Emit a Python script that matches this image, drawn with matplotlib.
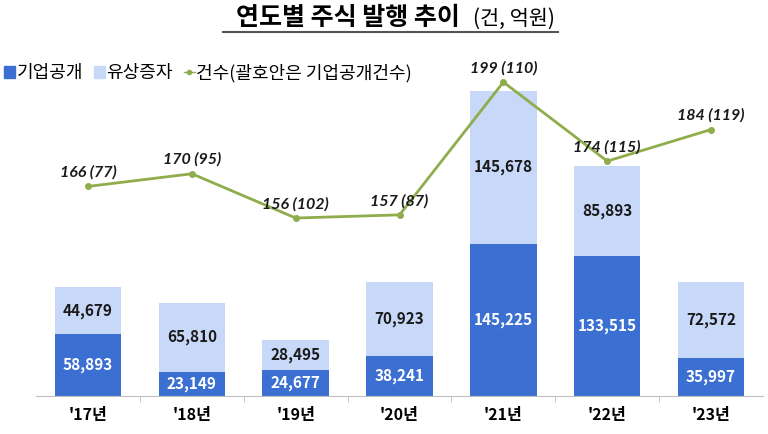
import matplotlib.pyplot as plt
from matplotlib.lines import Line2D
from matplotlib.patches import Patch

plt.rcParams['font.family'] = ['Noto Sans CJK KR', 'DejaVu Sans']

years = ["'17년", "'18년", "'19년", "'20년", "'21년", "'22년", "'23년"]
ipo_amount = [58893, 23149, 24677, 38241, 145225, 133515, 35997]
rights_amount = [44679, 65810, 28495, 70923, 145678, 85893, 72572]
total_count = [166, 170, 156, 157, 199, 174, 184]
ipo_count = [77, 95, 102, 87, 110, 115, 119]

dark_blue = '#3b6fd2'
light_blue = '#c8d8f8'
green = '#8fad4c'

fig = plt.figure(figsize=(7.68, 4.34), dpi=100)
ax = fig.add_axes([0.047, 0.0876, 0.9465, 0.7742])

x = list(range(len(years)))
ax.bar(x, ipo_amount, width=0.64, color=dark_blue)
ax.bar(x, rights_amount, width=0.64, bottom=ipo_amount, color=light_blue)

for i in x:
    ax.text(i, ipo_amount[i] / 2, f'{ipo_amount[i]:,}', ha='center', va='center',
            color='white', fontsize=11, fontweight='bold')
    ax.text(i, ipo_amount[i] + rights_amount[i] / 2, f'{rights_amount[i]:,}',
            ha='center', va='center', color='#1a1a1a', fontsize=11, fontweight='bold')

ax.set_xlim(-0.5, len(years) - 0.5)
ax.set_ylim(0, 320500)
ax.set_yticks([])
for s in ['top', 'right', 'left']:
    ax.spines[s].set_visible(False)
ax.spines['bottom'].set_color('#bfbfbf')
ax.set_xticks(x)
ax.set_xticklabels(years, fontsize=11.5, fontweight='bold')
ax.tick_params(axis='x', length=0, pad=8)
ax.set_xticks([i + 0.5 for i in x[:-1]], minor=True)
ax.tick_params(axis='x', which='minor', length=4, color='#bfbfbf')

ax2 = ax.twinx()
ax2.plot(x, total_count, color=green, linewidth=2, marker='o', markersize=4)
ax2.set_ylim(99.7, 206)
ax2.axis('off')
for i in x:
    ax2.annotate(f'{total_count[i]} ({ipo_count[i]})', (i, total_count[i]),
                 xytext=(0, 10), textcoords='offset points', ha='center', va='center',
                 fontsize=11.5, fontweight='bold', style='italic', color='#1a1a1a',
                 family=['Lato', 'DejaVu Sans'])

# title with underline
fig.text(460 / 768, 1 - 18 / 434, '연도별 주식 발행 추이', ha='right', va='center',
         fontsize=18, fontweight='bold')
fig.text(473 / 768, 1 - 19 / 434, '(건, 억원)', ha='left', va='center', fontsize=15)
fig.add_artist(Line2D([223 / 768, 558 / 768], [1 - 32 / 434, 1 - 32 / 434],
                      color='#555555', linewidth=1.5))

handles = [Patch(color=dark_blue), Patch(color=light_blue),
           Line2D([], [], color=green, marker='o', markersize=3, linewidth=1)]
labels = ['기업공개', '유상증자', '건수(괄호안은 기업공개건수)']
fig.legend(handles, labels, loc='center left', bbox_to_anchor=(0.005, 1 - 73 / 434),
           ncol=3, frameon=False, fontsize=13, handlelength=0.6, handleheight=0.6,
           handletextpad=0.1, columnspacing=0.6, borderaxespad=0, borderpad=0)

fig.savefig('out.png', dpi=100)
